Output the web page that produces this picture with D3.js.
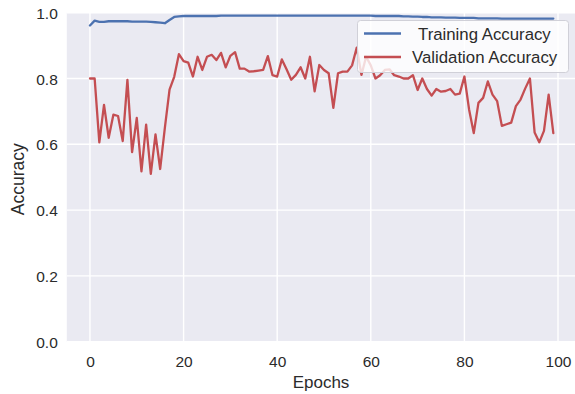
<!DOCTYPE html>
<html>
<head>
<meta charset="utf-8">
<script src="https://cdn.jsdelivr.net/npm/d3@7"></script>
<style>
  html, body { margin: 0; padding: 0; background: #fff; }
  svg { display: block; }
  text { font-family: "Liberation Sans", Arial, sans-serif; fill: #2b2b2b; }
</style>
</head>
<body>
<svg id="chart" width="575" height="394"></svg>
<script>
const epochs = d3.range(100);
const trainingAccuracy = [
  0.961, 0.976, 0.972, 0.972, 0.974, 0.974, 0.974, 0.974, 0.974, 0.973,
  0.973, 0.973, 0.973, 0.972, 0.971, 0.970, 0.968, 0.978, 0.987, 0.989,
  0.990, 0.990, 0.990, 0.990, 0.990, 0.990, 0.990, 0.990, 0.991, 0.991,
  0.991, 0.991, 0.991, 0.991, 0.991, 0.991, 0.991, 0.991, 0.991, 0.991,
  0.991, 0.991, 0.991, 0.991, 0.991, 0.991, 0.991, 0.991, 0.991, 0.991,
  0.991, 0.991, 0.991, 0.991, 0.991, 0.991, 0.991, 0.991, 0.991, 0.991,
  0.991, 0.990, 0.990, 0.990, 0.990, 0.990, 0.990, 0.989, 0.989, 0.988,
  0.988, 0.987, 0.987, 0.986, 0.986, 0.986, 0.985, 0.985, 0.985, 0.984,
  0.984, 0.984, 0.984, 0.983, 0.983, 0.983, 0.983, 0.983, 0.982, 0.982,
  0.982, 0.982, 0.982, 0.982, 0.982, 0.982, 0.982, 0.982, 0.982, 0.982
];
const validationAccuracy = [
  0.800, 0.800, 0.606, 0.720, 0.620, 0.690, 0.686, 0.610, 0.796, 0.576,
  0.680, 0.518, 0.660, 0.510, 0.630, 0.525, 0.650, 0.766, 0.805, 0.874,
  0.853, 0.848, 0.806, 0.866, 0.826, 0.866, 0.872, 0.856, 0.878, 0.834,
  0.869, 0.880, 0.830, 0.830, 0.821, 0.822, 0.824, 0.826, 0.868, 0.810,
  0.806, 0.858, 0.828, 0.796, 0.811, 0.834, 0.800, 0.866, 0.761, 0.841,
  0.826, 0.816, 0.711, 0.816, 0.821, 0.821, 0.840, 0.894, 0.811, 0.866,
  0.840, 0.800, 0.810, 0.826, 0.828, 0.810, 0.806, 0.800, 0.800, 0.810,
  0.765, 0.800, 0.768, 0.748, 0.768, 0.760, 0.762, 0.768, 0.751, 0.754,
  0.806, 0.706, 0.634, 0.726, 0.741, 0.791, 0.751, 0.731, 0.656, 0.661,
  0.666, 0.716, 0.736, 0.770, 0.800, 0.636, 0.606, 0.641, 0.751, 0.634
];
const xTicks = [0, 20, 40, 60, 80, 100];
const yTicks = [0.0, 0.2, 0.4, 0.6, 0.8, 1.0];
const seriesNames = ["Training Accuracy", "Validation Accuracy"];
const seriesColors = ["#4c72b0", "#c44e52"];

const svg = d3.select("#chart");
const pLeft = 66.8, pRight = 576.5, pTop = 12.7, pBottom = 341.7;

const x = d3.scaleLinear().domain([-4.95, 103.95]).range([pLeft, pRight]);
const y = d3.scaleLinear().domain([0, 1]).range([pBottom, pTop]);

svg.append("rect")
  .attr("x", pLeft).attr("y", pTop)
  .attr("width", pRight - pLeft).attr("height", pBottom - pTop)
  .attr("fill", "#eaeaf2");

// grid
const g = svg.append("g");
g.selectAll(".vg").data(xTicks).enter().append("line")
  .attr("x1", d => x(d)).attr("x2", d => x(d))
  .attr("y1", pTop).attr("y2", pBottom)
  .attr("stroke", "#fff").attr("stroke-width", 1.4);
g.selectAll(".hg").data(yTicks).enter().append("line")
  .attr("x1", pLeft).attr("x2", pRight)
  .attr("y1", d => y(d)).attr("y2", d => y(d))
  .attr("stroke", "#fff").attr("stroke-width", 1.4);

// axes (tick labels only)
const xAxis = d3.axisBottom(x).tickValues(xTicks).tickSize(0).tickPadding(0).tickFormat(d3.format("d"));
const xg = svg.append("g").attr("transform", `translate(0,${pBottom})`).call(xAxis);
xg.select(".domain").remove();
xg.selectAll("text").attr("dy", null).attr("y", 25.5).style("font-size", "15.5px")
  .style("font-family", "'Liberation Sans', Arial, sans-serif").attr("fill", "#2b2b2b");

const yAxis = d3.axisLeft(y).tickValues(yTicks).tickSize(0).tickPadding(0).tickFormat(d3.format(".1f"));
const yg = svg.append("g").attr("transform", `translate(${pLeft},0)`).call(yAxis);
yg.select(".domain").remove();
yg.selectAll("text").attr("x", -9).attr("dy", "0.36em").style("font-size", "15.5px")
  .style("font-family", "'Liberation Sans', Arial, sans-serif").attr("fill", "#2b2b2b");

// lines
const line = d3.line().x((d, i) => x(epochs[i])).y(d => y(d));
const series = [trainingAccuracy, validationAccuracy];
svg.selectAll(".series").data(series).enter().append("path")
  .attr("d", d => line(d))
  .attr("fill", "none")
  .attr("stroke", (d, i) => seriesColors[i])
  .attr("stroke-width", 2.3)
  .attr("stroke-linejoin", "round")
  .attr("stroke-linecap", "round");

// labels
svg.append("text").attr("x", 321).attr("y", 388).attr("text-anchor", "middle")
  .style("font-size", "17px").text("Epochs");
svg.append("text").attr("transform", `translate(23.5,${(pTop + pBottom) / 2 + 2}) rotate(-90)`)
  .attr("text-anchor", "middle").style("font-size", "17.5px").text("Accuracy");

// legend
const lg = svg.append("g");
lg.append("rect").attr("x", 357.5).attr("y", 20.5).attr("width", 211).attr("height", 52)
  .attr("rx", 3).attr("fill", "#fff").attr("fill-opacity", 0.8)
  .attr("stroke", "#d0d0d8").attr("stroke-width", 1);
seriesNames.forEach((name, i) => {
  const ly = 33.5 + i * 23.5;
  lg.append("line").attr("x1", 364).attr("x2", 401).attr("y1", ly).attr("y2", ly)
    .attr("stroke", seriesColors[i]).attr("stroke-width", 2.3);
  lg.append("text").attr("x", i === 0 ? 418 : 412).attr("y", ly).attr("dy", "0.36em")
    .style("font-size", "16.8px").text(name);
});
</script>
</body>
</html>
